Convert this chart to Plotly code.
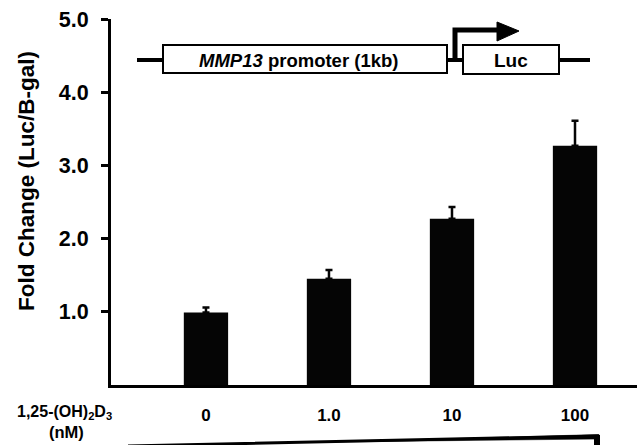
import plotly.graph_objects as go

categories = ["0", "1.0", "10", "100"]
fold_change = [0.99, 1.45, 2.27, 3.27]
sem = [0.07, 0.12, 0.16, 0.34]
y_tick_vals = [1, 2, 3, 4, 5]
y_tick_text = ["1.0", "2.0", "3.0", "4.0", "5.0"]

W, H = 637, 445
L, R, T, B = 111, 0, 19, 60
PW, PH = W - L - R, H - T - B


def px(x):
    return (x - L) / PW


def py(y):
    return (H - B - y) / PH


xpos = list(range(len(categories)))
FONT = "Liberation Sans"

fig = go.Figure()
fig.add_trace(go.Bar(
    x=xpos, y=fold_change, width=0.36,
    marker=dict(color="#050505", line=dict(width=0)),
    error_y=dict(type="data", array=sem, arrayminus=[0] * len(sem), symmetric=False,
                 color="#050505", thickness=2.5, width=3.5),
))

shapes = []
# construct diagram
shapes.append(dict(type="line", xref="paper", yref="paper", x0=px(137), x1=px(163), y0=py(60), y1=py(60),
                   line=dict(color="black", width=4)))
shapes.append(dict(type="rect", xref="paper", yref="paper", x0=px(163), x1=px(447), y0=py(45), y1=py(73),
                   line=dict(color="black", width=2), fillcolor="white"))
shapes.append(dict(type="line", xref="paper", yref="paper", x0=px(447), x1=px(463), y0=py(60), y1=py(60),
                   line=dict(color="black", width=4)))
shapes.append(dict(type="rect", xref="paper", yref="paper", x0=px(463), x1=px(559), y0=py(45), y1=py(74),
                   line=dict(color="black", width=2), fillcolor="white"))
shapes.append(dict(type="line", xref="paper", yref="paper", x0=px(559), x1=px(590), y0=py(60), y1=py(60),
                   line=dict(color="black", width=4)))
# arrow
shapes.append(dict(type="path", xref="paper", yref="paper",
                   path=f"M {px(455)},{py(60)} L {px(455)},{py(30)} L {px(500)},{py(30)}",
                   line=dict(color="black", width=5)))
shapes.append(dict(type="path", xref="paper", yref="paper",
                   path=f"M {px(497)},{py(22)} L {px(519)},{py(31)} L {px(497)},{py(41)} Z",
                   line=dict(color="black", width=1), fillcolor="black"))
# concentration wedge
shapes.append(dict(type="path", xref="paper", yref="paper",
                   path=f"M {px(128)},{py(446)} L {px(597)},{py(436)} L {px(597)},{py(447)}",
                   line=dict(color="black", width=3)))
shapes.append(dict(type="path", xref="paper", yref="paper",
                   path=f"M {px(330)},{py(442)} L {px(599)},{py(434.5)} L {px(599)},{py(439)} Z",
                   line=dict(color="black", width=0.5), fillcolor="black"))
shapes.append(dict(type="rect", xref="paper", yref="paper", x0=px(594), x1=px(600), y0=py(435), y1=py(447),
                   line=dict(width=0), fillcolor="black"))

common = dict(xref="paper", yref="paper", showarrow=False, xanchor="center", yanchor="middle")
annotations = [
    dict(x=px(298), y=py(60), text="<b><i>MMP13</i> promoter (1kb)</b>",
         font=dict(family=FONT, size=18.5, color="black"), **common),
    dict(x=px(511), y=py(60), text="<b>Luc</b>",
         font=dict(family=FONT, size=19, color="black"), **common),
    dict(x=px(64), y=py(412), text="<b>1,25-(OH)<sub>2</sub>D<sub>3</sub></b>",
         font=dict(family=FONT, size=16, color="black"), **common),
    dict(x=px(66), y=py(432), text="<b>(nM)</b>",
         font=dict(family=FONT, size=16.5, color="black"), **common),
    dict(x=px(26), y=py(181), text="<b>Fold Change (Luc/B-gal)</b>", textangle=-90,
         font=dict(family=FONT, size=22.5, color="black"), **common),
]

fig.update_layout(
    width=W, height=H,
    margin=dict(l=L, r=R, t=T, b=B, pad=0),
    paper_bgcolor="white", plot_bgcolor="white",
    showlegend=False,
    shapes=shapes, annotations=annotations,
    font=dict(family=FONT, color="black"),
    xaxis=dict(range=[-0.772, 3.504], tickvals=xpos, ticktext=[f"<b>{c}</b>" for c in categories],
               showline=True, linecolor="black", linewidth=3, ticks="", showgrid=False, zeroline=False,
               tickfont=dict(size=17, color="black"), ticklabelstandoff=13, fixedrange=True),
    yaxis=dict(range=[0, 5.0], tickvals=y_tick_vals, ticktext=[f"<b>{t}</b>" for t in y_tick_text],
               showline=True, linecolor="black", linewidth=3, ticks="outside", ticklen=7, tickwidth=3,
               tickcolor="black", showgrid=False, zeroline=False,
               tickfont=dict(size=21.5, color="black"), ticklabelstandoff=8),
)

fig.write_html("out.html")
